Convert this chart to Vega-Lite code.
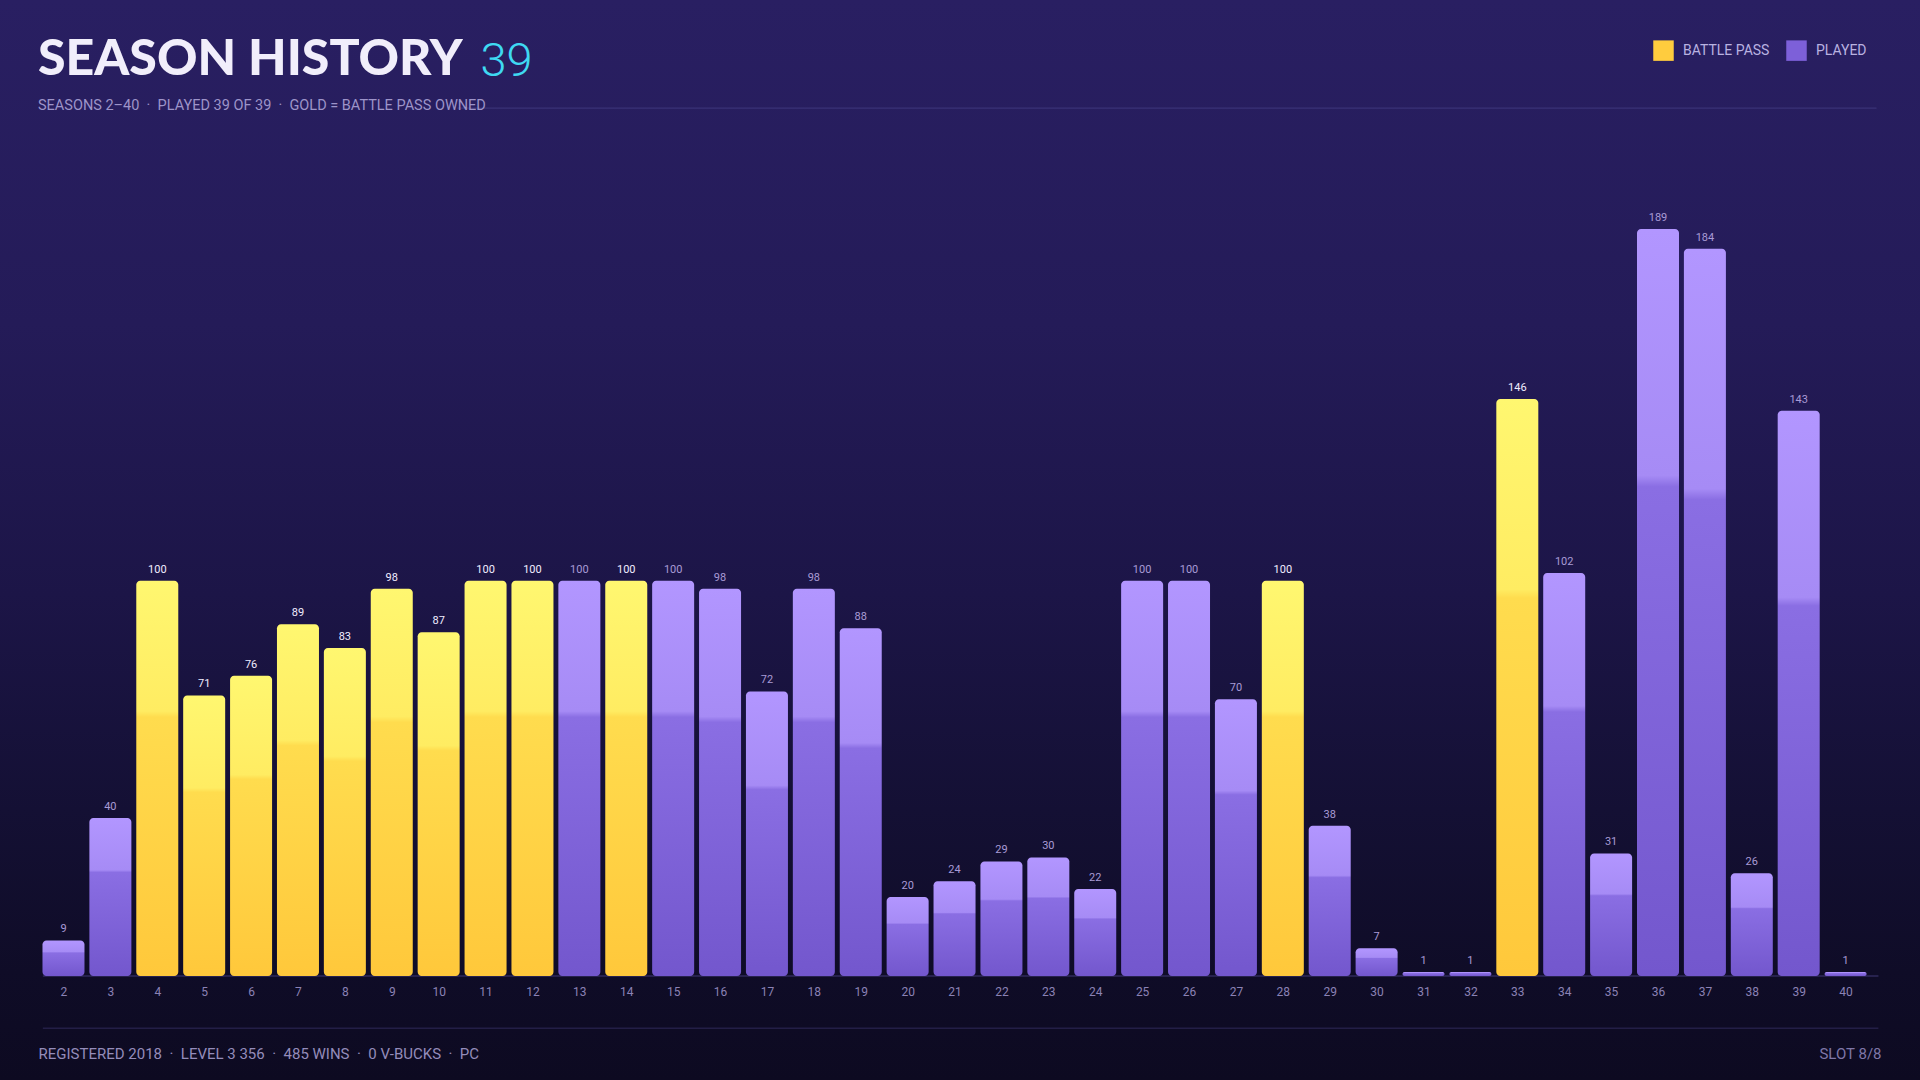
{
  "$schema": "https://vega.github.io/schema/vega-lite/v6.json",
  "width": 1920,
  "height": 1080,
  "autosize": {"type": "fit", "contains": "padding"},
  "padding": 0,
  "background": "#0d0a22",
  "config": {
    "view": {
      "stroke": null,
      "fill": {"gradient": "linear", "x1": 0, "y1": 0, "x2": 0, "y2": 1, "stops": [
        {"offset": 0, "color": "#291f62"},
        {"offset": 0.3, "color": "#241b58"},
        {"offset": 0.55, "color": "#1c1547"},
        {"offset": 0.75, "color": "#141034"},
        {"offset": 0.9, "color": "#0f0c27"},
        {"offset": 1, "color": "#0d0a21"}
      ]}
    },
    "font": "Roboto, sans-serif",
    "legend": {"symbolType": "square"}
  },
  "title": {
    "text": "SEASON HISTORY",
    "subtitle": "SEASONS 2–40 \u00a0·\u00a0 PLAYED 39 OF 39 \u00a0·\u00a0 GOLD = BATTLE PASS OWNED",
    "anchor": "start",
    "frame": "group",
    "orient": "top",
    "dx": 38,
    "offset": -112,
    "font": "Lato",
    "fontWeight": 900,
    "fontSize": 50,
    "color": "#f1eefb",
    "subtitleFont": "Roboto",
    "subtitleFontSize": 14.5,
    "subtitleColor": "#9d94c9",
    "subtitlePadding": 14
  },
  "data": {"values": [
    {"season": 2, "value": 9, "pass": "PLAYED"},
    {"season": 3, "value": 40, "pass": "PLAYED"},
    {"season": 4, "value": 100, "pass": "BATTLE PASS"},
    {"season": 5, "value": 71, "pass": "BATTLE PASS"},
    {"season": 6, "value": 76, "pass": "BATTLE PASS"},
    {"season": 7, "value": 89, "pass": "BATTLE PASS"},
    {"season": 8, "value": 83, "pass": "BATTLE PASS"},
    {"season": 9, "value": 98, "pass": "BATTLE PASS"},
    {"season": 10, "value": 87, "pass": "BATTLE PASS"},
    {"season": 11, "value": 100, "pass": "BATTLE PASS"},
    {"season": 12, "value": 100, "pass": "BATTLE PASS"},
    {"season": 13, "value": 100, "pass": "PLAYED"},
    {"season": 14, "value": 100, "pass": "BATTLE PASS"},
    {"season": 15, "value": 100, "pass": "PLAYED"},
    {"season": 16, "value": 98, "pass": "PLAYED"},
    {"season": 17, "value": 72, "pass": "PLAYED"},
    {"season": 18, "value": 98, "pass": "PLAYED"},
    {"season": 19, "value": 88, "pass": "PLAYED"},
    {"season": 20, "value": 20, "pass": "PLAYED"},
    {"season": 21, "value": 24, "pass": "PLAYED"},
    {"season": 22, "value": 29, "pass": "PLAYED"},
    {"season": 23, "value": 30, "pass": "PLAYED"},
    {"season": 24, "value": 22, "pass": "PLAYED"},
    {"season": 25, "value": 100, "pass": "PLAYED"},
    {"season": 26, "value": 100, "pass": "PLAYED"},
    {"season": 27, "value": 70, "pass": "PLAYED"},
    {"season": 28, "value": 100, "pass": "BATTLE PASS"},
    {"season": 29, "value": 38, "pass": "PLAYED"},
    {"season": 30, "value": 7, "pass": "PLAYED"},
    {"season": 31, "value": 1, "pass": "PLAYED"},
    {"season": 32, "value": 1, "pass": "PLAYED"},
    {"season": 33, "value": 146, "pass": "BATTLE PASS"},
    {"season": 34, "value": 102, "pass": "PLAYED"},
    {"season": 35, "value": 31, "pass": "PLAYED"},
    {"season": 36, "value": 189, "pass": "PLAYED"},
    {"season": 37, "value": 184, "pass": "PLAYED"},
    {"season": 38, "value": 26, "pass": "PLAYED"},
    {"season": 39, "value": 143, "pass": "PLAYED"},
    {"season": 40, "value": 1, "pass": "PLAYED"}
  ]},
  "resolve": {"axis": {"y": "independent"}},
  "layer": [
    {
      "data": {"values": [{}]},
      "mark": {"type": "rule", "color": "#3a3277", "strokeWidth": 1.2},
      "encoding": {
        "x": {"datum": 10.4, "type": "quantitative"},
        "x2": {"datum": 40.66},
        "y": {"datum": 219.6, "type": "quantitative", "axis": null}
      }
    },
    {
      "data": {"values": [{}]},
      "mark": {"type": "rule", "color": "#231e46", "strokeWidth": 1.5},
      "encoding": {
        "x": {"datum": 1.56, "type": "quantitative"},
        "x2": {"datum": 40.7},
        "y": {"datum": -13.2, "type": "quantitative", "axis": null}
      }
    },
    {
      "data": {"values": [{}]},
      "mark": {"type": "rule", "color": "#302a5c", "strokeWidth": 1.5},
      "encoding": {
        "x": {"datum": 1.56, "type": "quantitative"},
        "x2": {"datum": 40.7},
        "y": {"datum": 0, "type": "quantitative", "axis": null}
      }
    },
    {
      "mark": {"type": "square", "opacity": 0},
      "encoding": {
        "x": {"field": "season", "type": "quantitative"},
        "y": {"field": "value", "type": "quantitative", "axis": null},
        "color": {
          "field": "pass", "type": "nominal",
          "scale": {"domain": ["BATTLE PASS", "PLAYED"], "range": ["#ffcc3e", "#7d60d9"]},
          "legend": {
            "orient": "none", "legendX": 1653, "legendY": 40, "direction": "horizontal",
            "title": null, "symbolSize": 420, "symbolStrokeWidth": 0, "symbolOpacity": 1,
            "labelFontSize": 14, "labelColor": "#b9b2e0", "labelOffset": 9,
            "columnPadding": 16
          }
        }
      }
    },
    {
      "mark": {"type": "bar", "width": 42, "cornerRadius": 4, "strokeWidth": 0},
      "encoding": {
        "x": {
          "field": "season", "type": "quantitative",
          "scale": {"domain": [0.753, 41.48], "nice": false, "zero": false},
          "axis": {
            "orient": "bottom", "offset": -104,
            "values": [2,3,4,5,6,7,8,9,10,11,12,13,14,15,16,17,18,19,20,21,22,23,24,25,26,27,28,29,30,31,32,33,34,35,36,37,38,39,40],
            "format": "d", "domain": false, "ticks": false, "grid": false,
            "labelPadding": 10, "labelFontSize": 12, "labelColor": "#8b82b5",
            "labelFlush": false, "labelOverlap": false,
            "title": "REGISTERED 2018 \u00a0·\u00a0 LEVEL 3 356 \u00a0·\u00a0 485 WINS \u00a0·\u00a0 0 V-BUCKS \u00a0·\u00a0 PC",
            "titleX": 38, "titleY": 77, "titleAlign": "left", "titleAnchor": "start",
            "titleBaseline": "middle", "titleFontSize": 15, "titleFontWeight": "normal",
            "titleColor": "#948cba"
          }
        },
        "y": {
          "field": "value", "type": "quantitative",
          "scale": {"domain": [-26.32, 246.96], "nice": false, "zero": false},
          "axis": {
            "orient": "left", "labels": false, "ticks": false, "domain": false, "grid": false,
            "title": "39", "titleAngle": 0, "titleX": 480, "titleY": 75,
            "titleAlign": "left", "titleBaseline": "alphabetic", "titleFont": "Roboto",
            "titleColor": "#3fd9f2", "titleFontSize": 47, "titleFontWeight": 300
          }
        },
        "y2": {"datum": 0},
        "fill": {
          "condition": {
            "test": "datum.pass === 'BATTLE PASS'",
            "value": {"gradient": "linear", "x1": 0, "y1": 0, "x2": 0, "y2": 1, "stops": [
              {"offset": 0, "color": "#fff770"},
              {"offset": 0.33, "color": "#ffec62"},
              {"offset": 0.345, "color": "#ffdc4e"},
              {"offset": 1, "color": "#ffc83b"}
            ]}
          },
          "value": {"gradient": "linear", "x1": 0, "y1": 0, "x2": 0, "y2": 1, "stops": [
            {"offset": 0, "color": "#b296ff"},
            {"offset": 0.33, "color": "#a68bf5"},
            {"offset": 0.345, "color": "#8a6ee3"},
            {"offset": 1, "color": "#7357cd"}
          ]}
        }
      }
    },
    {
      "mark": {"type": "text", "baseline": "bottom", "dy": -6, "fontSize": 11},
      "encoding": {
        "x": {"field": "season", "type": "quantitative"},
        "y": {
          "field": "value", "type": "quantitative",
          "axis": {
            "orient": "right", "labels": false, "ticks": false, "domain": false, "grid": false,
            "title": "SLOT 8/8", "titleAngle": 0, "titleX": -39, "titleY": 1053,
            "titleAlign": "right", "titleBaseline": "middle",
            "titleColor": "#7f77a8", "titleFontSize": 15, "titleFontWeight": "normal"
          }
        },
        "text": {"field": "value", "type": "quantitative"},
        "color": {
          "condition": {"test": "datum.pass === 'BATTLE PASS'", "value": "#f1edff"},
          "value": "#a99bd6"
        }
      }
    }
  ]
}
